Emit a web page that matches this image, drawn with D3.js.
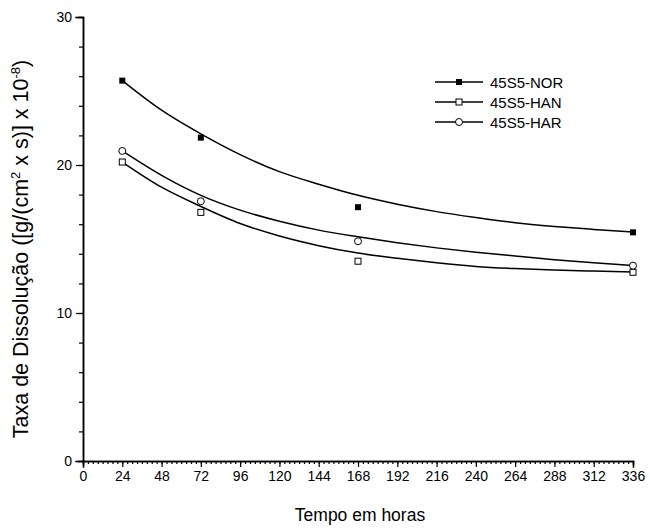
<!DOCTYPE html>
<html><head><meta charset="utf-8">
<script src="https://cdn.jsdelivr.net/npm/d3@7/dist/d3.min.js"></script>
<style>body{margin:0;background:#fff}svg{display:block}text{font-family:"Liberation Sans",Arial,sans-serif;fill:#000}</style>
</head><body><svg id="c" width="650" height="529"></svg>
<script>
// measured points
const hours = [24, 72, 168, 336];
const norValues = [25.7, 21.85, 17.15, 15.45];
const hanValues = [20.2, 16.8, 13.5, 12.75];
const harValues = [20.95, 17.55, 14.85, 13.2];
// fitted curves
const fitHours = [24, 48, 72, 96, 120, 144, 168, 192, 216, 240, 264, 288, 312, 336];
const norFit = [25.7, 23.7, 22.1, 20.7, 19.55, 18.7, 17.95, 17.35, 16.85, 16.45, 16.1, 15.85, 15.65, 15.47];
const hanFit = [20.2, 18.5, 17.2, 16.05, 15.2, 14.55, 14.05, 13.7, 13.4, 13.15, 13.0, 12.9, 12.83, 12.77];
const harFit = [20.95, 19.3, 17.95, 16.95, 16.2, 15.6, 15.15, 14.75, 14.4, 14.1, 13.85, 13.6, 13.4, 13.2];
const seriesNames = ["45S5-NOR", "45S5-HAN", "45S5-HAR"];
const xTicks = [0,24,48,72,96,120,144,168,192,216,240,264,288,312,336];
const yTicks = [0,10,20,30];

const svg = d3.select("#c");
const x = d3.scaleLinear().domain([0,336]).range([83,633]);
const y = d3.scaleLinear().domain([0,30]).range([461,17]);

// axes
const xMinor = d3.range(0,337,3);
const yMinor = d3.range(0,31,2);
const xAxisMinor = d3.axisBottom(x).tickValues(xMinor).tickSize(3).tickFormat("");
const xAxis = d3.axisBottom(x).tickValues(xTicks).tickSize(6).tickPadding(4);
const yAxisMinor = d3.axisLeft(y).tickValues(yMinor).tickSize(4).tickFormat("");
const yAxis = d3.axisLeft(y).tickValues(yTicks).tickSize(7).tickPadding(4);

function style(g){ g.selectAll("path").attr("stroke","#000").attr("stroke-width",1.5);
  g.selectAll("line").attr("stroke","#000").attr("stroke-width",1.2);
  g.selectAll("text").attr("font-size",14).attr("font-family","'Liberation Sans',Arial,sans-serif").attr("fill","#000"); }

svg.append("g").attr("transform","translate(0,461)").call(xAxisMinor).call(style);
svg.append("g").attr("transform","translate(0,461)").call(xAxis).call(style);
svg.append("g").attr("transform","translate(83,0)").call(yAxisMinor).call(style);
svg.append("g").attr("transform","translate(83,0)").call(yAxis).call(style);
svg.selectAll(".domain").attr("stroke-linecap","square");

// curves
const line = d3.line().x((d,i)=>x(fitHours[i])).y(d=>y(d)).curve(d3.curveMonotoneX);
[norFit, hanFit, harFit].forEach(f=>{
  svg.append("path").attr("d",line(f)).attr("fill","none").attr("stroke","#000").attr("stroke-width",1.5);
});

function marker(g, type, cx, cy){
  if(type===0) g.append("rect").attr("x",cx-3).attr("y",cy-3).attr("width",6).attr("height",6).attr("fill","#000");
  else if(type===1) g.append("rect").attr("x",cx-3).attr("y",cy-3).attr("width",6).attr("height",6).attr("fill","#fff").attr("stroke","#000").attr("stroke-width",1);
  else g.append("circle").attr("cx",cx).attr("cy",cy).attr("r",3.5).attr("fill","#fff").attr("stroke","#000").attr("stroke-width",1);
}
[norValues, hanValues, harValues].forEach((vals,t)=>{
  vals.forEach((v,i)=>marker(svg, t, x(hours[i]), y(v)));
});

// legend
seriesNames.forEach((n,i)=>{
  const ly = 82 + i*20;
  svg.append("line").attr("x1",435).attr("x2",483).attr("y1",ly).attr("y2",ly).attr("stroke","#000").attr("stroke-width",1.5);
  marker(svg, i, 459, ly);
  svg.append("text").attr("x",490).attr("y",ly+5.5).attr("font-size",15).text(n);
});

// axis titles
svg.append("text").attr("x",360).attr("y",521).attr("text-anchor","middle").attr("font-size",17.5).text("Tempo em horas");
const yt = svg.append("text").attr("transform","translate(28,249) rotate(-90)").attr("text-anchor","middle").attr("font-size",21.5);
yt.append("tspan").text("Taxa de Dissolução ([g/(cm");
yt.append("tspan").attr("font-size",13).attr("dy",-8).text("2");
yt.append("tspan").attr("dy",8).text(" x s)] x 10");
yt.append("tspan").attr("font-size",13).attr("dy",-8).text("-8");
yt.append("tspan").attr("dy",8).text(")");
</script></body></html>
